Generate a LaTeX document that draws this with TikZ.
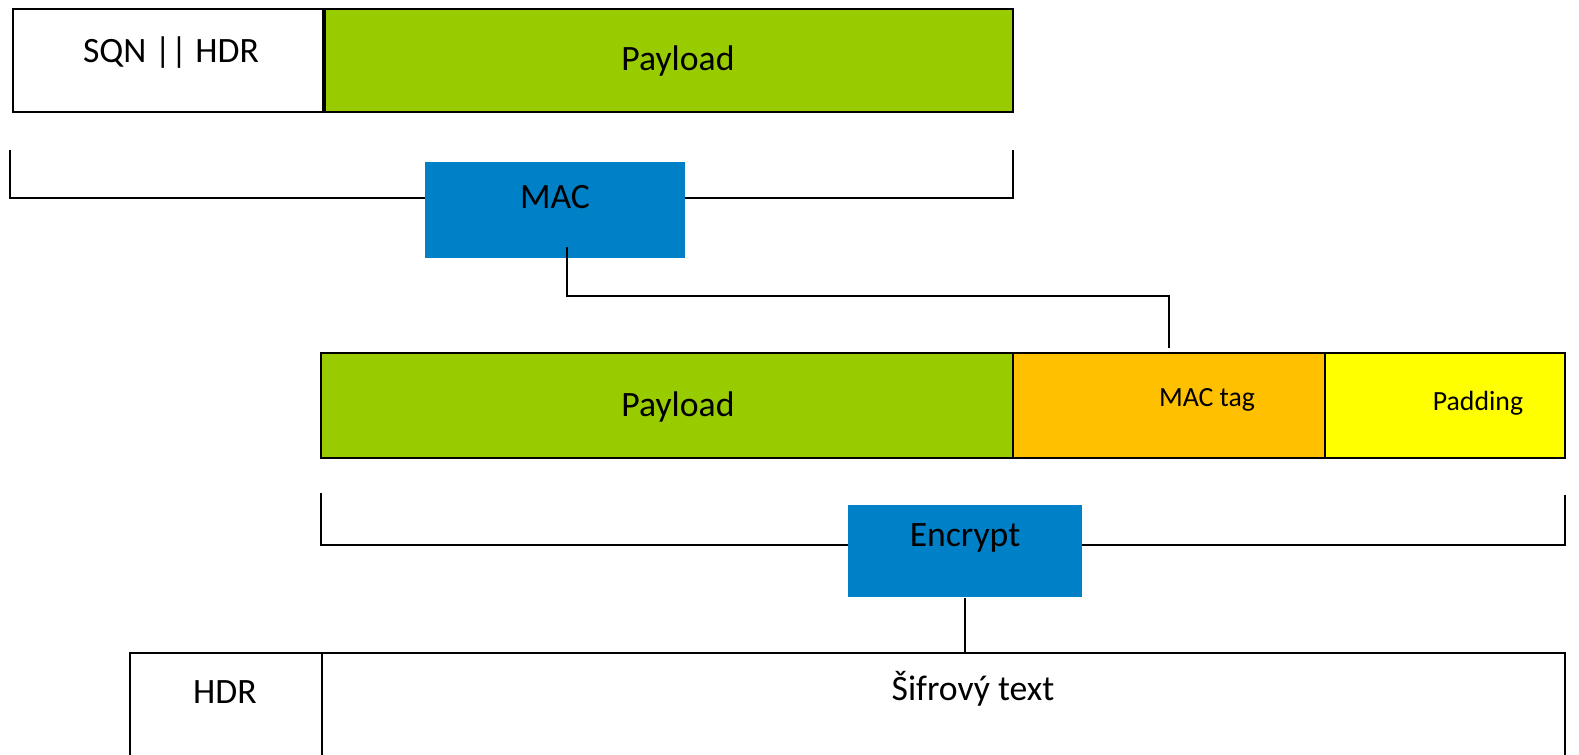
\documentclass[tikz,border=0pt]{standalone}
\usepackage{fontspec}
\setmainfont{Carlito}
\usepackage{tikz}
\usetikzlibrary{calc}

\definecolor{paygreen}{RGB}{153,204,0}
\definecolor{macblue}{RGB}{0,128,198}
\definecolor{tagorange}{RGB}{255,192,0}
\definecolor{padyellow}{RGB}{255,255,0}

\begin{document}
\begin{tikzpicture}[x=0.02cm, y=-0.02cm, line width=1.1pt,
    field/.style={draw=black, inner sep=0pt},
    opbox/.style={fill=macblue, inner sep=0pt},
    biglbl/.style={anchor=base, inner sep=0pt, font=\fontsize{20.3}{24}\selectfont},
    smalllbl/.style={anchor=base, inner sep=0pt, font=\fontsize{15.8}{19}\selectfont}]

    \useasboundingbox (0,0) rectangle (1579,754);
    \clip (0,0) rectangle (1579,754);

    % -------------------------
    % Plain message
    % -------------------------
    \node[field, minimum width=6.2cm, minimum height=2.06cm] (sqn) at (168,60.5) {};
    \node[field, fill=paygreen, minimum width=13.76cm, minimum height=2.06cm] (pay1) at (669,60.5) {};
    \node[biglbl] (sqnlbl) at (171,62) {SQN || HDR};
    \node[biglbl] (pay1lbl) at (678,70) {Payload};

    % -------------------------
    % MAC over SQN || HDR || Payload
    % -------------------------
    \coordinate (macl) at (10,150);
    \coordinate (macr) at (1013,150);
    \draw (macl) -- (10,198) -- (1013,198) -- (macr);
    \node[opbox, minimum width=5.2cm, minimum height=1.92cm] (mac) at (555,210) {};
    \node[biglbl] (maclbl) at (555,208) {MAC};

    % -------------------------
    % Payload || MAC tag || Padding
    % -------------------------
    \node[field, fill=paygreen, minimum width=13.84cm, minimum height=2.1cm] (pay2) at (667,405.5) {};
    \node[field, fill=tagorange, minimum width=6.24cm, minimum height=2.1cm] (tag) at (1169,405.5) {};
    \node[field, fill=padyellow, minimum width=4.8cm, minimum height=2.1cm] (pad) at (1445,405.5) {};
    \node[biglbl] (pay2lbl) at (678,416) {Payload};
    \node[smalllbl] (taglbl) at (1207,406) {MAC tag};
    \node[smalllbl] (padlbl) at (1478,410) {Padding};

    % MAC output goes into the tag
    \draw ($(mac.south)+(12,-12)$) -- ++(0,49) -| ($(tag.north)+(0,-4)$);

    % -------------------------
    % Encryption
    % -------------------------
    \coordinate (encl) at (321,493);
    \coordinate (encr) at (1565,495);
    \draw (encl) -- (321,545) -- (1565,545) -- (encr);
    \node[opbox, minimum width=4.68cm, minimum height=1.84cm] (enc) at (965,551) {};
    \node[biglbl] (enclbl) at (965,546) {Encrypt};

    % -------------------------
    % Output
    % -------------------------
    \node[field, minimum width=3.84cm, minimum height=2.94cm] (hdr) at (226,726.5) {};
    \node[field, minimum width=24.86cm, minimum height=2.94cm] (cip) at (943.5,726.5) {};
    \node[biglbl] (hdrlbl) at (225,703) {HDR};
    \node[biglbl] (ciplbl) at (973,700) {Šifrový text};

    \draw (enc.south) -- (enc.south |- cip.north);

\end{tikzpicture}
\end{document}
